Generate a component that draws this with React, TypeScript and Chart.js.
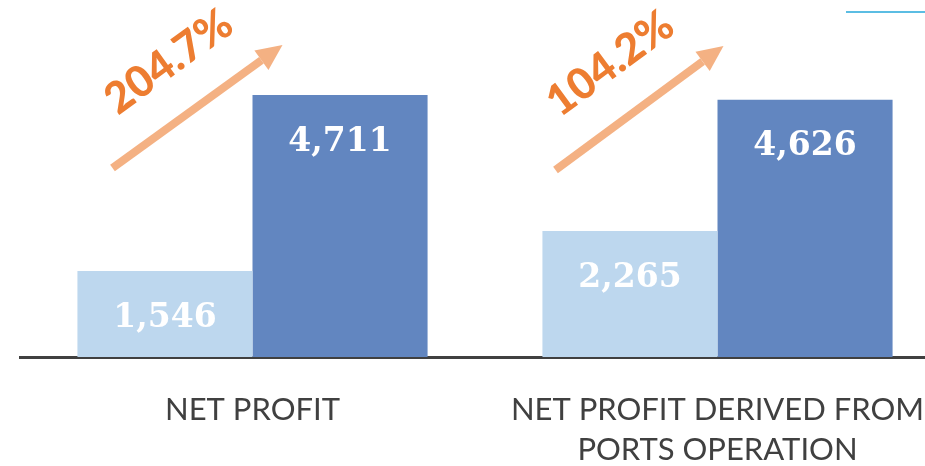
import React, { useEffect, useRef } from "react";
import { Chart, registerables } from "chart.js";

Chart.register(...registerables);

const categories = [["NET PROFIT"], ["NET PROFIT DERIVED FROM", "PORTS OPERATION"]];
const beforeValues = [1546, 2265];
const afterValues = [4711, 4626];
const growthLabels = ["204.7%", "104.2%"];

const LIGHT = "#BDD7EE";
const DARK = "#6286C0";
const ARROW = "#F4B183";
const ORANGE = "#ED7D31";
const AXIS = "#404040";

// arrow geometry relative to category centre (px) and chart-area bottom
const arrowTail = [[-140, 189], [-162, 187]];
const arrowTip = [[30, 312], [6, 311]];

const decorPlugin = {
  id: "decor",
  afterDatasetsDraw(chart: any) {
    const ctx = chart.ctx;
    const xs = chart.scales.x;
    const bottom = chart.chartArea.bottom;
    // value labels
    chart.data.datasets.forEach((ds: any, di: number) => {
      const meta = chart.getDatasetMeta(di);
      meta.data.forEach((bar: any, i: number) => {
        ctx.save();
        ctx.fillStyle = "#ffffff";
        ctx.font = "bold 33px 'DejaVu Serif'";
        ctx.textAlign = "center";
        ctx.textBaseline = "middle";
        ctx.fillText(ds.data[i].toLocaleString("en-US"), bar.x, bar.y + 47);
        ctx.restore();
      });
    });
    // category labels
    chart.data.labels.forEach((lab: string[], i: number) => {
      const c = xs.getPixelForValue(i);
      ctx.save();
      ctx.fillStyle = AXIS;
      ctx.font = "31px Lato";
      ctx.textAlign = "center";
      ctx.textBaseline = "middle";
      lab.forEach((line, li) => ctx.fillText(line, c, bottom + 53 + li * 40));
      ctx.restore();
    });
    // arrows + growth labels
    growthLabels.forEach((lab, i) => {
      const c = xs.getPixelForValue(i);
      const x1 = c + arrowTail[i][0];
      const y1 = bottom - arrowTail[i][1];
      const x2 = c + arrowTip[i][0];
      const y2 = bottom - arrowTip[i][1];
      const ang = Math.atan2(y2 - y1, x2 - x1);
      const headLen = 26;
      const headW = 12;
      const bx = x2 - headLen * Math.cos(ang);
      const by = y2 - headLen * Math.sin(ang);
      ctx.save();
      ctx.strokeStyle = ARROW;
      ctx.fillStyle = ARROW;
      ctx.lineWidth = 8;
      ctx.beginPath();
      ctx.moveTo(x1, y1);
      ctx.lineTo(bx, by);
      ctx.stroke();
      ctx.beginPath();
      ctx.moveTo(x2, y2);
      ctx.lineTo(bx + headW * Math.sin(ang), by - headW * Math.cos(ang));
      ctx.lineTo(bx - headW * Math.sin(ang), by + headW * Math.cos(ang));
      ctx.closePath();
      ctx.fill();
      // label
      const mx = (x1 + x2) / 2;
      const my = (y1 + y2) / 2;
      const perp = 53;
      const along = 3;
      const lx = mx + perp * Math.sin(ang) + along * Math.cos(ang);
      const ly = my - perp * Math.cos(ang) + along * Math.sin(ang);
      ctx.translate(lx, ly);
      ctx.rotate(ang);
      ctx.fillStyle = ORANGE;
      ctx.font = "900 43px Lato";
      ctx.textAlign = "center";
      ctx.textBaseline = "middle";
      ctx.fillText(lab, 0, 0);
      ctx.restore();
    });
    // small blue line top-right
    ctx.save();
    ctx.strokeStyle = "#5BBDE3";
    ctx.lineWidth = 2;
    ctx.beginPath();
    ctx.moveTo(846, 12);
    ctx.lineTo(chart.width, 12);
    ctx.stroke();
    ctx.restore();
  },
};

export default function App() {
  const ref = useRef<HTMLCanvasElement>(null);
  useEffect(() => {
    const chart = new Chart(ref.current!, {
      type: "bar",
      data: {
        labels: categories,
        datasets: [
          { data: beforeValues, backgroundColor: LIGHT, barPercentage: 1, categoryPercentage: 0.753 },
          { data: afterValues, backgroundColor: DARK, barPercentage: 1, categoryPercentage: 0.753 },
        ],
      },
      options: {
        animation: false,
        responsive: true,
        maintainAspectRatio: false,
        layout: { padding: { left: 20, right: 0, top: 79, bottom: 109 } },
        plugins: { legend: { display: false }, tooltip: { enabled: false } },
        scales: {
          x: {
            grid: { display: false, drawTicks: false },
            border: { display: true, color: AXIS, width: 3 },
            ticks: { display: false },
          },
          y: { display: false, min: 0, max: 5000 },
        },
      },
      plugins: [decorPlugin],
    });
    return () => chart.destroy();
  }, []);
  return (
    <div style={{ position: "fixed", left: 0, top: 0, width: 925, height: 466, overflow: "hidden", background: "#fff" }}>
      <div style={{ position: "relative", width: 950, height: 466 }}>
        <canvas ref={ref} />
      </div>
    </div>
  );
}
